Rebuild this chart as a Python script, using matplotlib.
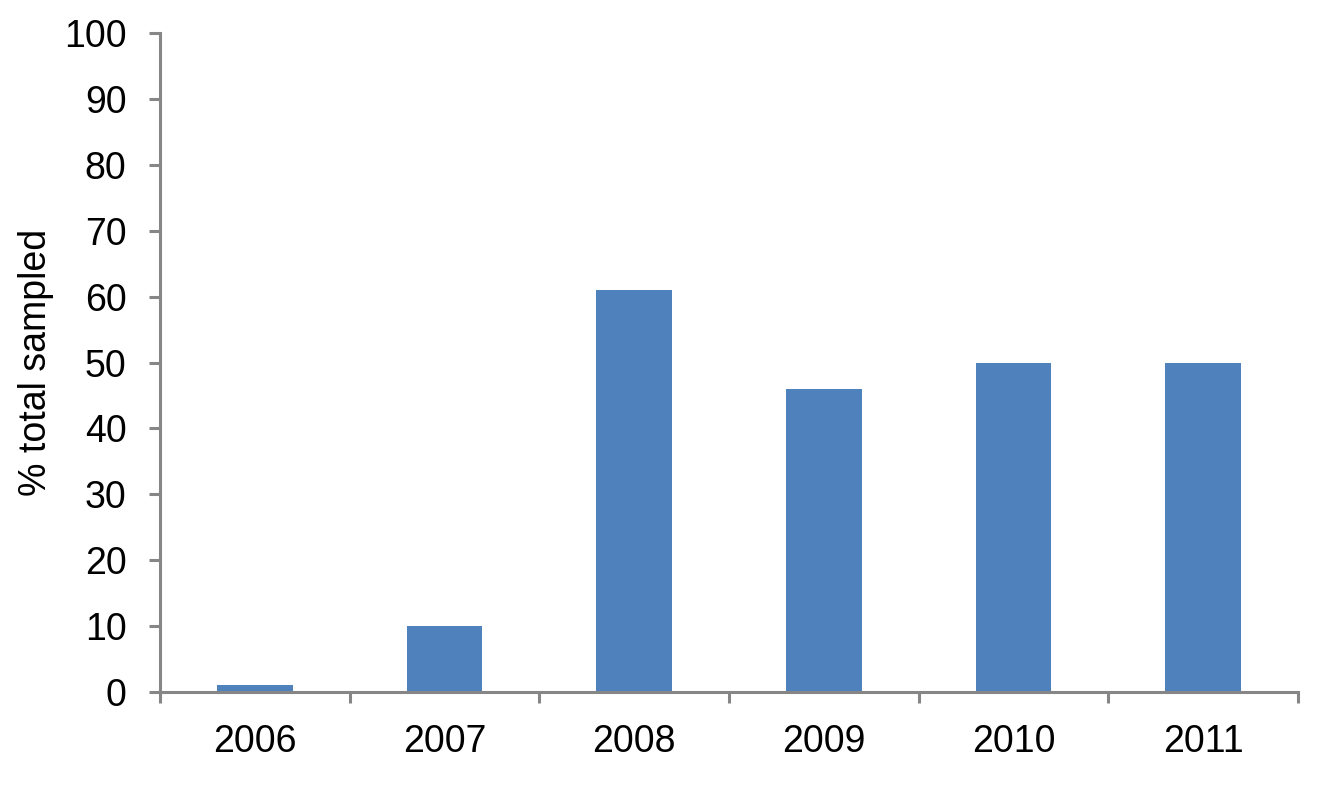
import numpy as np
import matplotlib.pyplot as plt

years = ["2006", "2007", "2008", "2009", "2010", "2011"]
pct_sampled = [1, 10, 61, 46, 50, 50]

plt.rcParams["font.family"] = ["Liberation Sans", "DejaVu Sans"]

fig = plt.figure(figsize=(13.23, 7.88), dpi=100)
ax = fig.add_axes([0.1209, 0.1218, 0.8602, 0.8363])

x = np.arange(len(years))
ax.bar(x, pct_sampled, width=0.4, color="#4F81BD", zorder=2)

ax.set_xlim(-0.5, len(years) - 0.5)
ax.set_ylim(0, 100)
ax.set_yticks(np.arange(0, 101, 10))
ax.set_xticks(x)
ax.set_xticklabels(years)
ax.set_xticks(np.arange(-0.5, len(years), 1), minor=True)

grey = "#868686"
for side in ["top", "right"]:
    ax.spines[side].set_visible(False)
for side in ["left", "bottom"]:
    ax.spines[side].set_color(grey)
    ax.spines[side].set_linewidth(2.2)

ax.tick_params(axis="y", direction="out", length=8, width=2.2, color=grey,
               labelsize=27, pad=16)
ax.tick_params(axis="x", which="major", length=0, labelsize=27, pad=23)
ax.tick_params(axis="x", which="minor", direction="out", length=8, width=2.2,
               color=grey)

ax.set_ylabel("% total sampled", fontsize=27, labelpad=7)

fig.savefig("out.png", dpi=100)
